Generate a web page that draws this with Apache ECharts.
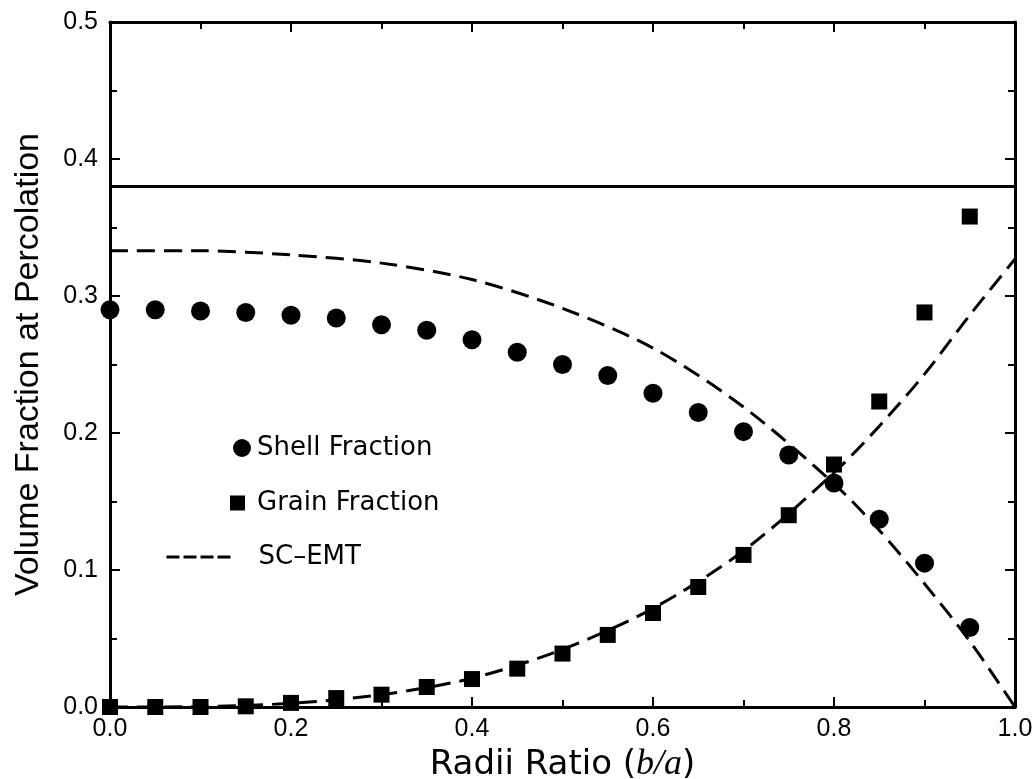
<!DOCTYPE html>
<html>
<head>
<meta charset="utf-8">
<script src="https://cdn.jsdelivr.net/npm/echarts@6/dist/echarts.min.js"></script>
<style>
  html, body { margin: 0; padding: 0; background: #fff; }
  #chart { width: 1035px; height: 779px; }
</style>
</head>
<body>
<div id="chart"></div>
<script>
// radii ratio b/a for the simulated points
const ratio = [0, 0.05, 0.1, 0.15, 0.2, 0.25, 0.3, 0.35, 0.4, 0.45, 0.5, 0.55, 0.6, 0.65, 0.7, 0.75, 0.8, 0.85, 0.9, 0.95];
const shellFraction = [0.290, 0.290, 0.289, 0.288, 0.286, 0.284, 0.279, 0.275, 0.268, 0.259, 0.250, 0.242, 0.229, 0.215, 0.201, 0.184, 0.1635, 0.137, 0.105, 0.058];
const grainFraction = [0.0, 0.0, 0.0, 0.0005, 0.003, 0.0065, 0.009, 0.0146, 0.0204, 0.028, 0.039, 0.0526, 0.0686, 0.0876, 0.111, 0.140, 0.177, 0.223, 0.288, 0.358];

// SC-EMT curves
const emtRatio = [0, 0.1, 0.2, 0.3, 0.4, 0.5, 0.6, 0.7, 0.8, 0.85, 0.9, 0.95, 1.0];
const emtShell = [0.333, 0.333, 0.330, 0.324, 0.312, 0.291, 0.262, 0.219, 0.163, 0.129, 0.090, 0.048, 0.0];
const emtGrain = [0, 0.0003, 0.0027, 0.009, 0.021, 0.042, 0.072, 0.114, 0.171, 0.205, 0.243, 0.286, 0.327];

// horizontal reference line
const percX = [0, 1];
const percY = [0.38, 0.38];

const pairs = (xs, ys) => xs.map((x, i) => [x, ys[i]]);

const FONT = 'Liberation Sans';
const WIDE = 'DejaVu Sans';
const axisLine = { show: true, onZero: false, lineStyle: { color: '#000', width: 3 } };
const tick = { show: true, inside: true, length: 10, lineStyle: { color: '#000', width: 2 } };
const minor = { show: true, splitNumber: 2, length: 7, lineStyle: { color: '#000', width: 2 } };

const chart = echarts.init(document.getElementById('chart'), null, { renderer: 'canvas' });

const legendText = { color: '#000', fontFamily: WIDE, fontSize: 26, lineHeight: 28 };
const legendBase = { orient: 'vertical', selectedMode: false, itemGap: 0 };

const option = {
  backgroundColor: '#fff',
  animation: false,
  grid: { left: 110, right: 20, top: 22, bottom: 72, containLabel: false, outerBoundsMode: 'none' },
  legend: [
    Object.assign({}, legendBase, {
      data: [{ name: 'Shell Fraction', icon: 'circle' }],
      left: 228, top: 429, itemWidth: 18, itemHeight: 18,
      textStyle: Object.assign({}, legendText, { padding: [0, 0, 0, 1] })
    }),
    Object.assign({}, legendBase, {
      data: [{ name: 'Grain Fraction', icon: 'rect' }],
      left: 225, top: 484, itemWidth: 15, itemHeight: 15,
      textStyle: Object.assign({}, legendText, { padding: [0, 0, 0, 7] })
    }),
    Object.assign({}, legendBase, {
      data: ['SC\u2013EMT'],
      left: 160, top: 538, itemWidth: 67, itemHeight: 14,
      itemStyle: { opacity: 0 },
      lineStyle: { color: '#000', width: 3, type: [13, 4] },
      textStyle: Object.assign({}, legendText, { padding: [0, 0, 0, 20] })
    })
  ],
  xAxis: [
    {
      type: 'value', min: 0, max: 1, interval: 0.2,
      axisLine: axisLine, axisTick: tick, minorTick: minor,
      splitLine: { show: false },
      axisLabel: { color: '#000', fontFamily: FONT, fontSize: 25, margin: 10, formatter: v => v.toFixed(1) },
      name: 'Radii Ratio ({i|b/a})',
      nameLocation: 'middle',
      nameGap: 30,
      nameTextStyle: {
        color: '#000', fontFamily: WIDE, fontSize: 34,
        rich: { i: { fontFamily: 'Liberation Serif', fontStyle: 'italic', fontSize: 36, color: '#000' } }
      }
    },
    {
      type: 'value', min: 0, max: 1, interval: 0.2, position: 'top',
      axisLine: axisLine, axisTick: tick, minorTick: minor,
      splitLine: { show: false },
      axisLabel: { show: false }
    }
  ],
  yAxis: [
    {
      type: 'value', min: 0, max: 0.5, interval: 0.1,
      axisLine: axisLine, axisTick: tick, minorTick: minor,
      splitLine: { show: false },
      axisLabel: { color: '#000', fontFamily: FONT, fontSize: 25, margin: 12, formatter: v => v.toFixed(1) },
      name: 'Volume Fraction at Percolation',
      nameLocation: 'middle',
      nameGap: 64,
      nameTextStyle: { color: '#000', fontFamily: FONT, fontSize: 34 }
    },
    {
      type: 'value', min: 0, max: 0.5, interval: 0.1, position: 'right',
      axisLine: axisLine, axisTick: tick, minorTick: minor,
      splitLine: { show: false },
      axisLabel: { show: false }
    }
  ],
  series: [
    {
      name: 'percolation', type: 'line', data: pairs(percX, percY),
      symbol: 'none', silent: true,
      lineStyle: { color: '#000', width: 3 }
    },
    {
      name: 'SC\u2013EMT', type: 'line', data: pairs(emtRatio, emtShell),
      symbol: 'none', smooth: 0.3,
      itemStyle: { color: '#000' },
      lineStyle: { color: '#000', width: 3, type: [18, 9] }
    },
    {
      name: 'SC\u2013EMT', type: 'line', data: pairs(emtRatio, emtGrain),
      symbol: 'none', smooth: 0.3,
      itemStyle: { color: '#000' },
      lineStyle: { color: '#000', width: 3, type: [18, 9] }
    },
    {
      name: 'Shell Fraction', type: 'scatter', data: pairs(ratio, shellFraction),
      symbol: 'circle', symbolSize: 19,
      itemStyle: { color: '#000', opacity: 1 }
    },
    {
      name: 'Grain Fraction', type: 'scatter', data: pairs(ratio, grainFraction),
      symbol: 'rect', symbolSize: 16,
      itemStyle: { color: '#000', opacity: 1 }
    }
  ]
};

chart.setOption(option);
</script>
</body>
</html>
